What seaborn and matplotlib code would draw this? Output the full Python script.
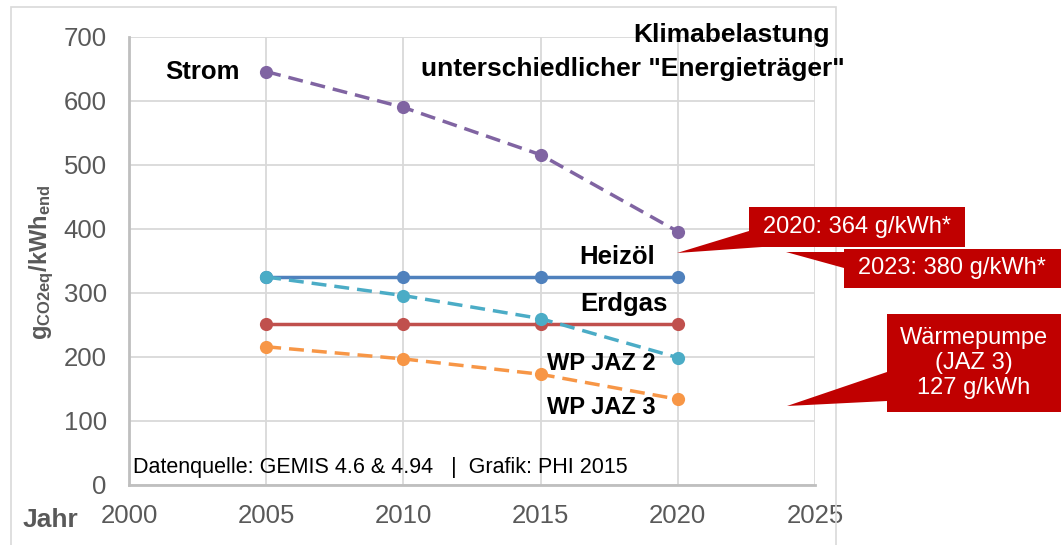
# Klimabelastung unterschiedlicher Energietraeger - line chart with callouts

import matplotlib
matplotlib.use("Agg")

import matplotlib.pyplot as plt
import pandas as pd
import seaborn as sns
from matplotlib.patches import Polygon, Rectangle

sns.set_theme(style="white")
plt.rcParams["font.family"] = ["Liberation Sans", "DejaVu Sans"]
plt.rcParams["text.color"] = "black"
plt.rcParams["mathtext.fontset"] = "custom"
plt.rcParams["mathtext.rm"] = "Liberation Sans"
plt.rcParams["mathtext.bf"] = "Liberation Sans:bold"
plt.rcParams["mathtext.default"] = "bf"

# data (g CO2eq / kWh end energy)
years = [2005, 2010, 2015, 2020]
strom = [646, 590, 516, 396]
heizoel = [325, 325, 325, 325]
erdgas = [251, 251, 251, 251]
wpJaz2 = [325, 296, 260, 199]
wpJaz3 = [216, 197, 173, 134]

seriesNames = ["Strom", "Heizöl", "Erdgas", "WP JAZ 2", "WP JAZ 3"]
seriesValues = [strom, heizoel, erdgas, wpJaz2, wpJaz3]
seriesColors = ["#8064A2", "#4F81BD", "#C0504D", "#4BACC6", "#F79646"]
seriesDashed = [True, False, False, True, True]

xTicks = [2000, 2005, 2010, 2015, 2020, 2025]
yTicks = [0, 100, 200, 300, 400, 500, 600, 700]

titleLines = ["Klimabelastung", "unterschiedlicher \"Energieträger\""]
sourceText = "Datenquelle: GEMIS 4.6 & 4.94   |  Grafik: PHI 2015"
callouts = ["2020: 364 g/kWh*", "2023: 380 g/kWh*", "Wärmepumpe\n(JAZ 3)\n127 g/kWh"]

W, H = 1061, 545
gray = "#595959"
red = "#C00000"


def px(x, y):
    # pixel position (from top left) -> figure fraction
    return (x / W, 1 - y / H)


fig = plt.figure(figsize=(W / 100, H / 100), dpi=100)

# outer frame of the chart
fig.patches.append(Rectangle(px(11, 560), 825 / W, 553 / H, transform=fig.transFigure,
                             fill=False, edgecolor="#D9D9D9", linewidth=1.2, zorder=0))

ax = fig.add_axes([129 / W, 1 - 485 / H, 686 / W, 448 / H])
ax.set_facecolor("none")

for name, vals, color, dashed in zip(seriesNames, seriesValues, seriesColors, seriesDashed):
    df = pd.DataFrame({"Jahr": years, "Wert": vals})
    sns.lineplot(data=df, x="Jahr", y="Wert", ax=ax, color=color, linewidth=2.5,
                 linestyle=(0, (4.3, 2.3)) if dashed else "-",
                 marker="o", markersize=9.5, markeredgewidth=0, label=None)

ax.set_xlim(2000, 2025)
ax.set_ylim(0, 700)
ax.set_xticks(xTicks)
ax.set_yticks(yTicks)
ax.grid(True, color="#D9D9D9", linewidth=1.3, zorder=0)
ax.set_axisbelow(True)
for side in ["top", "right"]:
    ax.spines[side].set_visible(False)
for side in ["left", "bottom"]:
    ax.spines[side].set_color("#BFBFBF")
    ax.spines[side].set_linewidth(2)
ax.tick_params(axis="both", length=0, labelsize=18.5, labelcolor=gray)
ax.tick_params(axis="y", pad=16)
ax.tick_params(axis="x", pad=14)
ax.set_xlabel("")
ax.set_ylabel("")
if ax.get_legend():
    ax.get_legend().remove()

# axis labels
fig.text(*px(42, 262), r"$g_{CO2eq}/kWh_{end}$", rotation=90, ha="center", va="center",
         fontsize=17, color=gray)
fig.text(*px(23, 520), "Jahr", ha="left", va="center", fontsize=19, fontweight="bold", color=gray)

# series labels
fig.text(*px(240, 72), "Strom", ha="right", va="center", fontsize=18.5, fontweight="bold", color="black")
fig.text(*px(655, 257), "Heizöl", ha="right", va="center", fontsize=18.5, fontweight="bold", color="black")
fig.text(*px(668, 304), "Erdgas", ha="right", va="center", fontsize=18.5, fontweight="bold", color="black")
fig.text(*px(656, 364), "WP JAZ 2", ha="right", va="center", fontsize=17, fontweight="bold", color="black")
fig.text(*px(656, 408), "WP JAZ 3", ha="right", va="center", fontsize=17, fontweight="bold", color="black")

# title
fig.text(*px(830, 35), titleLines[0], ha="right", va="center", fontsize=19, fontweight="bold", color="black")
fig.text(*px(845, 69), titleLines[1], ha="right", va="center", fontsize=19, fontweight="bold", color="black")

# source note
fig.text(*px(133, 467), sourceText, ha="left", va="center", fontsize=15.5, color="black")

# red callouts: (box left, top, right, bottom), tail triangle, text centre
calloutShapes = [
    ((749, 207, 965, 247), [(677, 253), (749, 231), (762, 247)], (857, 227)),
    ((844, 249, 1061, 288), [(786, 252), (844, 252), (844, 268)], (952, 268)),
    ((887, 314, 1061, 412), [(787, 406), (887, 372), (887, 401)], (974, 363)),
]
for text, (box, tail, centre) in zip(callouts, calloutShapes):
    l, t, r, b = box
    fig.patches.append(Rectangle(px(l, b), (r - l) / W, (b - t) / H, transform=fig.transFigure,
                                 facecolor=red, edgecolor="none", zorder=5))
    fig.patches.append(Polygon([px(*p) for p in tail], closed=True, transform=fig.transFigure,
                               facecolor=red, edgecolor="none", zorder=5))
    fig.text(*px(*centre), text, ha="center", va="center", fontsize=17, color="white",
             linespacing=1.2, zorder=6)

fig.savefig("out.png", dpi=100)
